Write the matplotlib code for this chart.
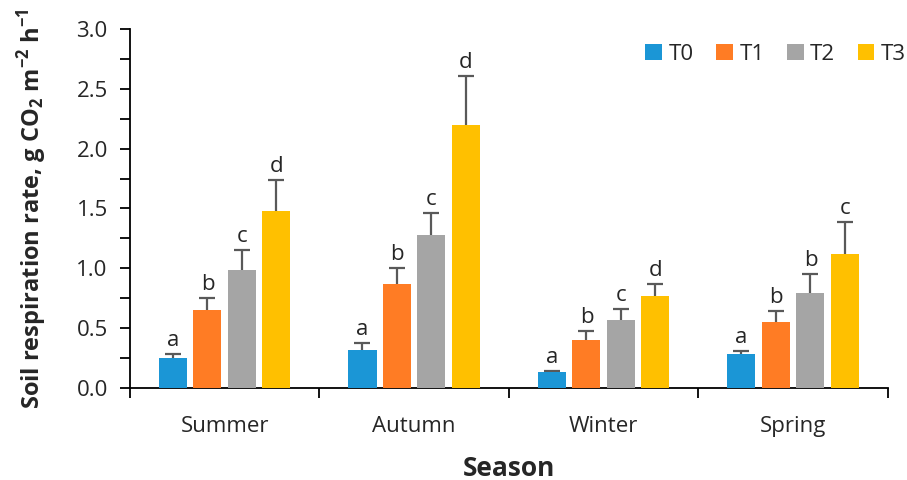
import numpy as np
import matplotlib.pyplot as plt
from matplotlib.ticker import MultipleLocator

# DATA
seasons = ["Summer", "Autumn", "Winter", "Spring"]
treatments = ["T0", "T1", "T2", "T3"]
t0 = [0.25, 0.32, 0.13, 0.28]
t1 = [0.65, 0.87, 0.40, 0.55]
t2 = [0.99, 1.28, 0.57, 0.79]
t3 = [1.48, 2.20, 0.77, 1.12]
t0_err = [0.03, 0.06, 0.01, 0.03]
t1_err = [0.10, 0.13, 0.08, 0.09]
t2_err = [0.16, 0.18, 0.09, 0.16]
t3_err = [0.26, 0.41, 0.10, 0.27]
t0_letters = ["a", "a", "a", "a"]
t1_letters = ["b", "b", "b", "b"]
t2_letters = ["c", "c", "c", "b"]
t3_letters = ["d", "d", "d", "c"]

COLOURS = ["#1B96D6", "#FF7C24", "#A5A5A5", "#FFC000"]
TEXT = "#262626"

plt.rcParams["font.family"] = ["Open Sans", "DejaVu Sans"]
plt.rcParams["mathtext.fontset"] = "custom"
plt.rcParams["mathtext.rm"] = "Open Sans"
plt.rcParams["mathtext.bf"] = "Open Sans:bold"

fig = plt.figure(figsize=(9.07, 4.8), dpi=100)
ax = fig.add_axes([0.1433, 0.1917, 0.8357, 0.7479])

x = np.arange(len(seasons))
spacing = 0.182
width = 0.148
series = [(t0, t0_err, t0_letters), (t1, t1_err, t1_letters),
          (t2, t2_err, t2_letters), (t3, t3_err, t3_letters)]

for i, (vals, errs, letters) in enumerate(series):
    pos = x + (i - 1.5) * spacing
    ax.bar(pos, vals, width, color=COLOURS[i], label=treatments[i], zorder=3)
    # symmetric bars drawn behind the columns so only the upper half shows
    ax.errorbar(pos, vals, yerr=errs, fmt="none", ecolor="#595959",
                elinewidth=1.6, capsize=6, capthick=1.6, zorder=2)
    for p, v, e, l in zip(pos, vals, errs, letters):
        ax.text(p, v + e + 0.025, l, ha="center", va="bottom", fontsize=16, color=TEXT)

ax.set_xlim(-0.5, 3.5)
ax.set_ylim(0, 3.0)
ax.yaxis.set_major_locator(MultipleLocator(0.5))
ax.yaxis.set_minor_locator(MultipleLocator(0.25))
ax.yaxis.set_major_formatter(plt.FormatStrFormatter("%.1f"))
ax.set_xticks(x)
ax.set_xticklabels(seasons)
ax.set_xticks(np.arange(-0.5, 4.0, 1.0), minor=True)
ax.tick_params(axis="x", which="major", length=0, pad=20, labelsize=16, labelcolor=TEXT)
ax.tick_params(axis="x", which="minor", length=7, width=1.3, direction="out")
ax.tick_params(axis="y", which="both", length=7, width=1.3, direction="out",
               labelsize=16, labelcolor=TEXT, pad=9)

for s in ["top", "right"]:
    ax.spines[s].set_visible(False)
for s in ["left", "bottom"]:
    ax.spines[s].set_linewidth(1.3)

ax.set_ylabel(r"Soil respiration rate, g CO$_\mathbf{2}$ m$^{\mathbf{-2}}$ h$^{\mathbf{-1}}$",
              fontsize=17, fontweight="bold", color=TEXT, labelpad=20)
ax.set_xlabel("Season", fontsize=19, fontweight="bold", color=TEXT, labelpad=13)

ax.legend(loc="upper right", bbox_to_anchor=(1.05, 1.015), ncol=4, frameon=False,
          fontsize=16, handlelength=0.75, handleheight=0.75, handletextpad=0.3,
          columnspacing=1.0, labelcolor=TEXT)

fig.savefig("out.png", dpi=100)
